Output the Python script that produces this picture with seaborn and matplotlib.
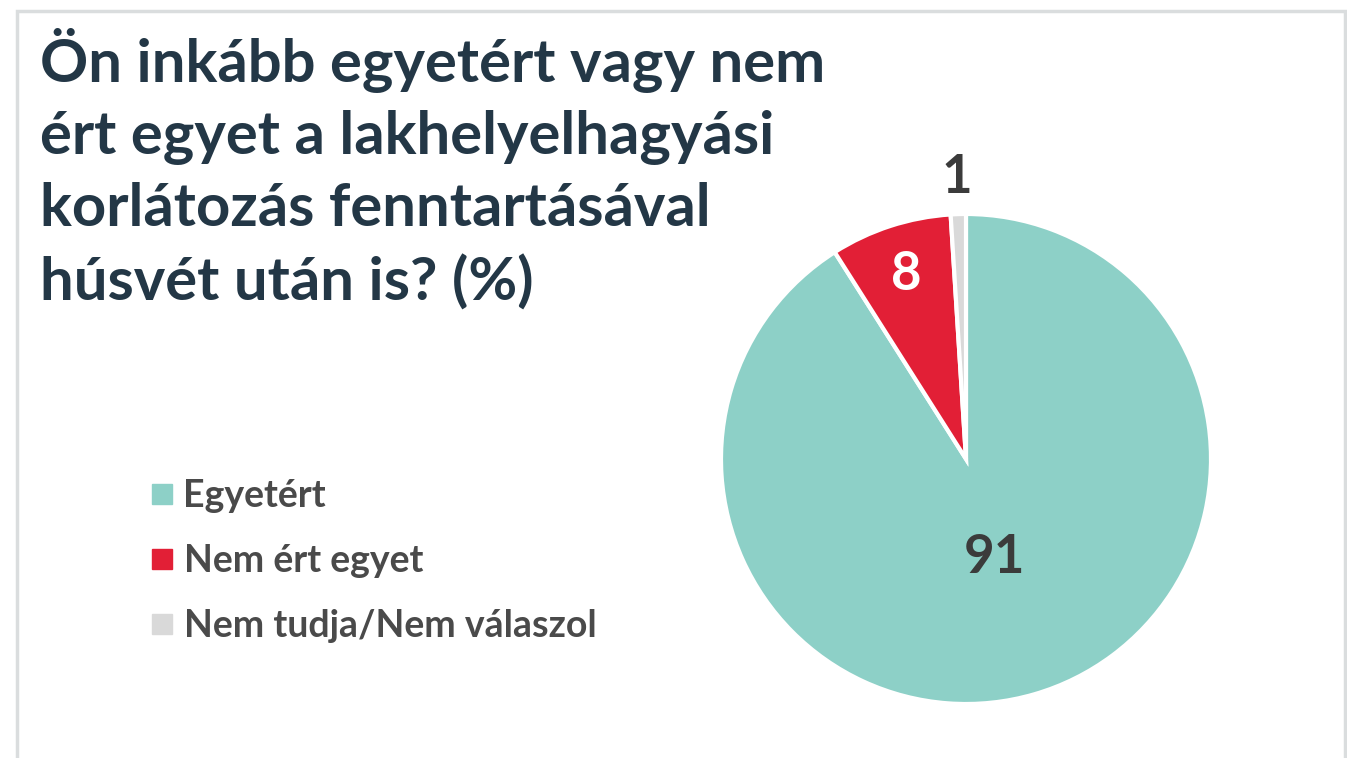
import numpy as np
import matplotlib
matplotlib.use("Agg")
import matplotlib.pyplot as plt
from matplotlib.lines import Line2D
from matplotlib.patches import Rectangle
import seaborn as sns

# adatok
categories = ["Egyetért", "Nem ért egyet", "Nem tudja/Nem válaszol"]
values = [91, 8, 1]
colors = ["#8DD0C7", "#E21F36", "#D9D9D9"]
label_colors = ["#3B3B3B", "#FFFFFF", "#3B3B3B"]
label_dist = [0.42, 0.79, 1.15]
title = "Ön inkább egyetért vagy nem\nért egyet a lakhelyelhagyási\nkorlátozás fenntartásával\nhúsvét után is? (%)"

sns.set_theme(style="white")
plt.rcParams['font.family'] = ['Lato', 'DejaVu Sans']

W, H = 1347, 758
fig = plt.figure(figsize=(W / 100, H / 100), dpi=100)
fig.patch.set_facecolor("white")

# keret
fig.add_artist(Rectangle((17 / W, -0.05), (1345 - 17) / W, (H - 11) / H + 0.05,
                         transform=fig.transFigure, fill=False,
                         edgecolor="#DADDDE", linewidth=2.5))

# kördiagram
cx, cy, r = 966, 459, 245
ax = fig.add_axes([(cx - r) / W, (H - cy - r) / H, 2 * r / W, 2 * r / H])
wedges, _ = ax.pie(values, colors=colors, startangle=90, counterclock=False,
                   wedgeprops=dict(edgecolor="white", linewidth=3))
ax.set_xlim(-1, 1)
ax.set_ylim(-1, 1)
ax.set_axis_off()

for w, v, c, d in zip(wedges, values, label_colors, label_dist):
    ang = np.deg2rad((w.theta1 + w.theta2) / 2)
    ax.text(d * np.cos(ang), d * np.sin(ang), str(v), ha="center", va="center",
            fontsize=38, fontweight="bold", color=c, clip_on=False)

# cím
fig.text(40 / W, 1 - 28 / H, title, ha="left", va="top", fontsize=43,
         fontweight="bold", color="#233746", linespacing=1.39)

# jelmagyarázat
handles = [Line2D([0], [0], marker="s", linestyle="none", markersize=15,
                  markerfacecolor=c, markeredgecolor=c) for c in colors]
leg = fig.legend(handles, categories, loc="upper left",
                 bbox_to_anchor=(134 / W, 1 - 464 / H), frameon=False,
                 fontsize=27, handlelength=0.7, handletextpad=0.22,
                 labelspacing=0.83, borderaxespad=0)
for t in leg.get_texts():
    t.set_color("#4A4A4A")
    t.set_fontweight("bold")

fig.savefig("out.png", dpi=100)
